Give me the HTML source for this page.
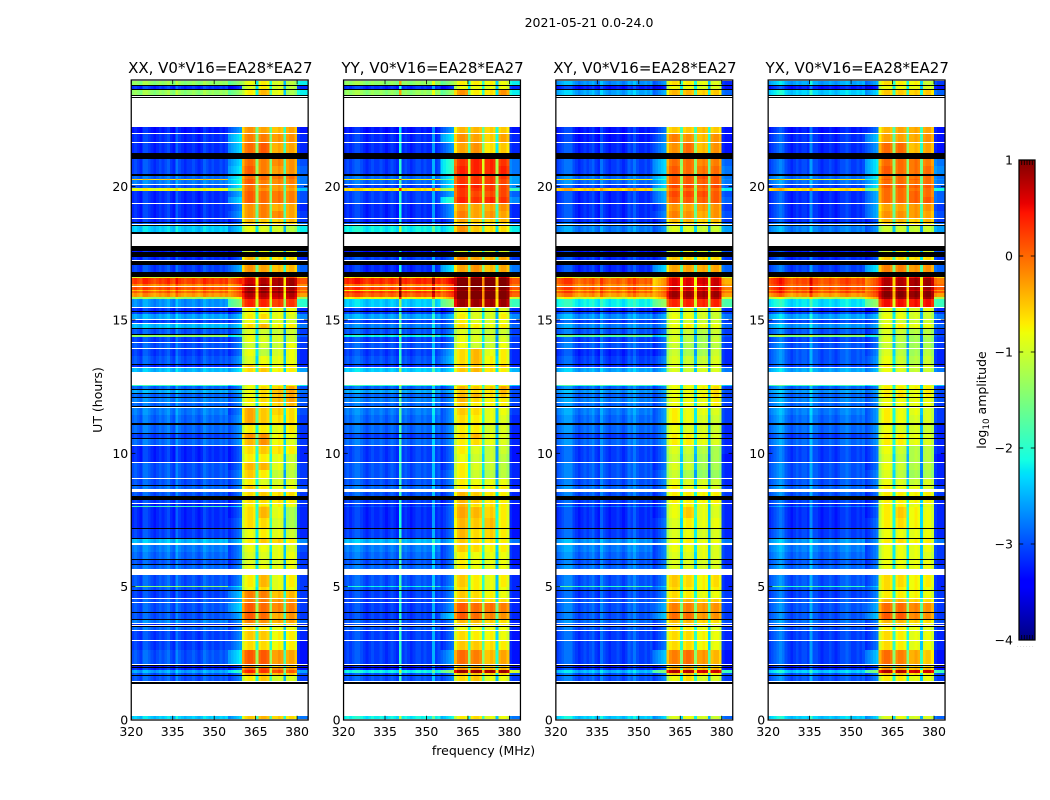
<!DOCTYPE html>
<html lang="en">
<head>
<meta charset="utf-8">
<title>2021-05-21 dynamic spectra</title>
<style>
html,body{margin:0;padding:0;background:#fff;width:1050px;height:800px;overflow:hidden}
svg{display:block}
text{font-family:"DejaVu Sans","Liberation Sans",sans-serif;fill:#000}
</style>
</head>
<body>
<svg id="chart" xmlns="http://www.w3.org/2000/svg" width="1050" height="800" viewBox="0 0 1050 800">
<rect x="0" y="0" width="1050" height="800" fill="#fff"/>
<text x="589" y="27" font-size="12.5" text-anchor="middle">2021-05-21 0.0-24.0</text>
<text x="483.5" y="755" font-size="12.5" text-anchor="middle">frequency (MHz)</text>
<text x="0" y="0" font-size="12.5" text-anchor="middle" transform="translate(102,400) rotate(-90)">UT (hours)</text>
<text x="0" y="0" font-size="12.5" text-anchor="middle" transform="translate(986,400) rotate(-90)">log<tspan dy="3" font-size="8.8">10</tspan><tspan dy="-3"> amplitude</tspan></text>
<defs><linearGradient id="jetGradient" x1="0" y1="1" x2="0" y2="0"></linearGradient></defs>
<g id="panels"></g>
<g id="colorbar"></g>
</svg>
<script>
const panelTitles = ["XX, V0*V16=EA28*EA27", "YY, V0*V16=EA28*EA27", "XY, V0*V16=EA28*EA27", "YX, V0*V16=EA28*EA27"];
const freqTicks = [320, 335, 350, 365, 380];
const utTicks = [0, 5, 10, 15, 20];
const colorTicks = [1, 0, -1, -2, -3, -4];
const freqRange = [320, 384];
const utRange = [0, 24];
const colorRange = [-4, 1];
const hoursPerSample = 0.0375;
const quietFloorShift = -2;
const quietFloorLimit = -15;

// Samples with no signal (drawn black). Each is [firstSample, lastSample].
const flaggedSpans = [[634,635],[630,631],[624,625],[622,623],[561,567],[544,546],[497,498],[494,495],[486,488],[469,474],[463,468],[455,459],[443,448],[408,409],[391,392],[385,386],[355,356],[330,331],[326,327],[322,323],[313,314],[295,297],[286,287],[281,282],[234,235],[220,224],[191,192],[181,182],[160,161],[155,156],[129,130],[107,108],[100,101],[93,94],[54,55],[52,53],[44,45],[36,38]];

// Time spans with data, top to bottom. Gaps between spans are unobserved (white).
const rowSpans = [[635,639],[631,634],[625,630],[587,593],[578,586],[567,577],[554,561],[546,554],[541,544],[540,541],[536,540],[532,535],[529,532],[523,529],[517,523],[509,516],[502,509],[498,501],[496,497],[488,494],[468,469],[460,463],[448,455],[442,443],[436,442],[434,436],[430,433],[429,430],[427,429],[423,427],[421,423],[413,421],[409,412],[406,408],[401,406],[397,400],[392,396],[386,391],[383,385],[378,383],[372,377],[364,371],[356,364],[353,355],[348,352],[334,335],[331,334],[327,330],[323,326],[318,322],[314,317],[305,312],[297,305],[287,295],[282,286],[275,281],[266,274],[258,266],[250,257],[242,250],[235,241],[231,234],[224,228],[217,220],[214,216],[213,214],[202,213],[192,202],[182,191],[177,181],[168,175],[161,168],[156,160],[151,155],[134,145],[133,134],[130,133],[122,129],[118,121],[108,117],[101,107],[97,100],[95,96],[90,93],[80,89],[70,79],[56,70],[53,54],[50,52],[47,50],[45,47],[39,44],[1,4]];

// Which spectral region each of the 64 channels belongs to.
const channelRegion = [0,0,0,0,0,0,0,0,0,0,0,0,0,0,0,0,0,0,0,0,0,0,0,0,0,0,0,0,0,0,0,0,0,0,0,1,1,1,1,1,2,2,2,2,2,2,3,3,3,3,3,4,4,4,4,4,5,5,5,5,6,6,6,6];

// Per-channel offsets in tenths of a log10 unit (bandpass shape and RFI columns).
const channelOffsetXX = [0,1,0,-1,2,2,1,0,-1,0,1,0,1,2,0,-1,3,1,0,-1,0,0,1,0,-1,0,2,1,0,1,0,0,1,0,1,-3,-2,-1,0,1,-3,0,1,1,0,-13,0,1,1,0,-13,0,0,1,0,-15,0,1,1,-1,1,0,0,0];
const channelOffsetYY = [0,1,0,1,2,2,1,0,-1,0,1,0,0,1,0,-1,0,1,0,-1,11,0,1,0,-1,0,1,1,0,1,0,0,6,0,1,-3,-2,-1,0,1,-3,0,1,1,0,-13,0,1,1,0,-12,0,0,1,0,-15,0,1,1,-1,1,0,0,0];
const channelOffsetXY = [0,1,2,3,3,3,1,0,-1,0,1,0,1,2,0,-1,3,1,0,-1,0,0,1,0,-1,0,2,1,3,1,0,0,1,0,1,-3,-2,-1,0,1,-3,0,1,1,0,-13,0,1,1,0,-13,0,0,1,0,-15,0,1,1,-1,1,0,0,0];
const channelOffsetYX = [0,1,2,3,4,3,1,0,-1,0,1,0,1,1,0,5,1,1,0,-1,0,0,1,0,-1,0,1,1,2,1,0,0,1,0,1,-3,-2,-1,0,1,-3,0,1,1,0,-13,0,1,1,0,-13,0,0,1,0,-15,0,1,1,-1,1,0,0,0];

// One row per time span: [320-350, 350-360, band 1, band 2, band 3, band 4, 380-384], in tenths of log10 amplitude.
const levelsXX = [
[-14,-14,-9,-8,-10,-12,-20],[-30,-30,-10,-8,-10,-12,-30],[-14,-14,-8,-5,-9,-13,-20],
[-31,-25,-3,-4,-5,-4,-31],[-30,-21,-2,-2,-3,-3,-30],[-30,-22,-1,0,-4,-4,-30],
[-29,-22,-1,-2,-2,-3,-28],[-29,-21,0,-2,-3,-3,-27],
[-27,-20,-1,-1,-1,-1,-26],[-6,-18,0,-1,-2,-2,-26],[-26,-20,0,-2,-2,-2,-26],[-28,-21,-1,-2,-3,-3,-27],[-9,-14,-1,-3,-3,-4,-22],[-30,-24,0,-1,-1,-2,-28],[-30,-22,0,-1,-1,-2,-28],[-30,-26,-3,-2,-4,-4,-30],[-30,-25,-3,-2,-2,-4,-29],[-30,-28,-5,-6,-6,-5,-29],[-28,-26,-6,-7,-6,-6,-26],[-22,-22,-9,-10,-10,-12,-20],
[-31,-30,-10,-9,-10,-10,-28],[-30,-28,-5,-7,-7,-7,-30],[-29,-24,-3,-4,-5,-5,-27],
[-10,-8,0,1,1,1,-6],[2,3,6,7,8,8,1],[-2,-1,7,8,8,8,-2],[1,2,8,8,8,8,0],[-5,-3,6,6,6,6,-3],[0,1,9,9,9,9,0],[-3,0,7,7,7,7,-3],[-13,-8,6,6,6,6,-13],[-25,-15,3,3,2,2,-18],
[-30,-30,-8,-8,-9,-9,-30],[-29,-28,-9,-9,-9,-9,-29],[-24,-23,-8,-7,-9,-10,-25],[-29,-27,-9,-10,-10,-11,-29],[-23,-22,-7,-5,-8,-8,-26],[-28,-26,-10,-11,-11,-11,-29],[-14,-18,-9,-11,-10,-11,-27],[-29,-27,-9,-10,-10,-11,-29],[-28,-26,-11,-11,-11,-9,-29],[-29,-27,-9,-12,-10,-9,-30],[-28,-25,-10,-9,-9,-9,-30],[-30,-28,-6,-8,-9,-8,-30],[-23,-21,-7,-6,-8,-8,-24],
[-18,-18,-9,-9,-9,-9,-20],[-27,-26,-9,-7,-6,-4,-28],[-24,-23,-9,-7,-5,-4,-26],[-27,-26,-9,-7,-5,-4,-28],[-26,-25,-8,-7,-5,-4,-27],[-27,-26,-9,-8,-6,-5,-28],[-26,-26,-4,-6,-6,-7,-28],[-27,-25,-4,-6,-7,-7,-29],[-27,-25,-8,-8,-9,-8,-29],[-29,-26,-3,-3,-8,-9,-30],[-27,-25,-5,-3,-8,-10,-29],[-30,-28,-7,-6,-7,-8,-30],[-30,-28,-8,-8,-9,-11,-30],[-28,-27,-5,-5,-9,-11,-29],[-28,-26,-6,-8,-11,-12,-29],
[-28,-26,-8,-10,-10,-10,-29],[-27,-26,-6,-8,-9,-9,-28],[-28,-27,-7,-6,-7,-7,-29],[-29,-28,-7,-7,-7,-8,-29],[-30,-28,-8,-8,-8,-9,-30],[-17,-20,-8,-7,-8,-9,-29],[-30,-28,-7,-5,-9,-13,-30],[-30,-27,-7,-7,-10,-13,-30],[-29,-27,-9,-8,-9,-11,-30],[-23,-23,-8,-6,-6,-8,-25],[-26,-26,-9,-9,-9,-10,-28],[-27,-26,-10,-10,-9,-9,-29],[-28,-27,-10,-10,-10,-9,-29],[-27,-26,-9,-9,-9,-9,-29],
[-28,-26,-8,-5,-9,-8,-29],[-15,-20,-8,-5,-9,-8,-29],[-28,-24,-9,-7,-9,-9,-29],[-29,-23,-2,-2,-5,-5,-29],[-28,-24,-2,-2,-3,-3,-29],[-28,-22,0,-1,-2,-2,-29],[-28,-24,0,-1,-4,-3,-29],[-26,-25,-2,-3,-4,-4,-27],[-30,-28,-5,-5,-7,-7,-30],[-27,-26,-7,-8,-9,-9,-28],[-29,-26,-6,-6,-8,-8,-30],[-29,-25,-7,-7,-8,-8,-31],[-28,-21,0,0,-3,-4,-31],[-31,-29,-3,-5,-6,-6,-31],[-30,-28,0,1,-2,-3,-31],[-24,-18,3,2,1,0,-24],[-28,-26,-4,-5,-5,-6,-28],[-28,-26,-8,-6,-10,-10,-29],[-22,-22,-6,-5,-6,-7,-26]
];
const levelsYY = [
[-14,-14,-8,-8,-8,-9,-20],[-30,-30,-9,-9,-9,-9,-30],[-14,-14,-3,-8,-7,-3,-20],
[-31,-25,-5,-5,-6,-6,-31],[-30,-21,-3,-4,-6,-4,-30],[-30,-25,-4,-3,-7,-6,-30],
[-29,-18,2,3,3,2,-26],[-29,-18,3,3,3,3,-26],
[-27,-20,2,2,2,2,-24],[-8,-15,2,2,2,1,-24],[-27,-21,2,2,2,1,-24],[-29,-21,3,3,2,1,-25],[-7,-11,2,2,2,1,-17],[-29,-24,2,1,1,1,-27],[-29,-18,3,2,3,2,-25],[-30,-25,-3,-4,-4,-3,-30],[-30,-25,-2,-4,-3,-4,-30],[-30,-28,-4,-6,-6,-5,-30],[-28,-26,-6,-7,-7,-7,-26],[-20,-19,-3,-6,-7,-7,-20],
[-31,-30,-10,-9,-10,-10,-28],[-29,-27,-2,-4,-5,-4,-29],[-30,-21,-4,-3,-5,-4,-26],
[-8,-5,5,6,6,6,-6],[3,5,10,10,10,10,1],[-2,1,10,10,10,10,-1],[2,3,10,10,10,10,1],[-8,-5,8,8,8,8,-5],[2,3,10,10,10,10,1],[0,2,10,10,10,10,0],[-8,-4,10,10,10,10,-10],[-22,-14,8,8,8,8,-17],
[-30,-29,-9,-10,-10,-10,-30],[-29,-28,-9,-10,-10,-9,-29],[-24,-23,-8,-10,-10,-8,-25],[-29,-27,-8,-10,-10,-9,-29],[-26,-25,-7,-8,-9,-8,-27],[-28,-26,-10,-11,-11,-11,-29],[-20,-20,-9,-10,-10,-11,-28],[-29,-27,-9,-10,-11,-10,-29],[-28,-26,-9,-11,-11,-9,-29],[-29,-24,-7,-5,-9,-8,-30],[-28,-23,-7,-5,-8,-8,-30],[-30,-27,-6,-6,-7,-6,-30],[-22,-21,-6,-5,-7,-8,-23],
[-18,-18,-9,-9,-9,-9,-22],[-27,-26,-5,-6,-6,-4,-29],[-24,-23,-6,-7,-7,-5,-28],[-27,-26,-5,-5,-7,-6,-29],[-26,-25,-5,-7,-8,-8,-28],[-27,-26,-6,-8,-8,-8,-29],[-26,-25,-6,-7,-9,-9,-29],[-27,-25,-7,-8,-9,-10,-30],[-27,-25,-8,-8,-10,-10,-30],[-29,-26,-7,-5,-9,-10,-31],[-27,-25,-8,-7,-9,-10,-30],[-29,-27,-8,-10,-11,-11,-31],[-29,-27,-9,-11,-11,-12,-31],[-28,-27,-8,-10,-11,-12,-30],[-28,-26,-8,-11,-12,-12,-30],
[-28,-26,-8,-9,-9,-9,-30],[-27,-26,-8,-8,-8,-8,-30],[-28,-27,-5,-6,-7,-8,-30],[-29,-28,-5,-6,-7,-8,-30],[-30,-28,-5,-7,-7,-8,-31],[-28,-26,-5,-8,-7,-8,-31],[-30,-27,-4,-5,-6,-8,-31],[-30,-27,-5,-6,-5,-8,-31],[-29,-27,-5,-7,-6,-8,-31],[-23,-23,-6,-7,-7,-8,-26],[-26,-26,-6,-7,-8,-8,-30],[-27,-26,-8,-9,-9,-9,-30],[-28,-27,-8,-9,-9,-9,-31],[-27,-26,-8,-9,-9,-9,-30],
[-28,-26,-6,-8,-9,-8,-30],[-20,-22,-6,-8,-9,-8,-30],[-28,-25,-7,-8,-9,-9,-30],[-29,-26,-6,-7,-8,-9,-30],[-29,-26,-5,-6,-7,-7,-30],[-29,-25,0,-1,-1,-2,-30],[-29,-22,0,-1,-2,-3,-30],[-28,-26,-5,-5,-6,-7,-30],[-29,-27,-7,-7,-8,-8,-30],[-28,-27,-9,-9,-9,-9,-30],[-29,-27,-7,-8,-8,-9,-31],[-29,-27,-6,-6,-7,-8,-31],[-29,-24,-1,-2,-5,-4,-31],[-31,-29,-5,-5,-6,-6,-31],[-31,-28,-3,-4,-5,-5,-31],[-20,-14,8,8,8,8,-10],[-28,-26,-6,-6,-7,-7,-28],[-28,-26,-7,-6,-9,-9,-29],[-20,-20,-8,-7,-9,-9,-26]
];
const levelsXY = [
[-25,-25,-7,-8,-9,-10,-30],[-31,-31,-9,-9,-10,-10,-31],[-24,-24,-5,-5,-6,-6,-27],
[-31,-27,-6,-6,-5,-6,-31],[-31,-26,-2,-3,-5,-3,-31],[-30,-25,-3,-1,-5,-3,-31],
[-29,-22,-1,-1,-2,-2,-27],[-29,-22,0,-1,-1,-1,-26],
[-27,-21,0,0,1,0,-26],[-8,-18,0,0,0,0,-25],[-27,-22,0,0,0,0,-26],[-29,-22,1,1,0,1,-27],[-6,-14,-1,-1,-1,-1,-20],[-30,-24,1,1,1,0,-28],[-30,-24,0,0,0,0,-27],[-30,-27,-3,-4,-3,-3,-29],[-30,-26,-2,-3,-4,-3,-28],[-30,-28,-5,-5,-6,-5,-29],[-28,-26,-7,-7,-7,-7,-26],[-26,-25,-10,-10,-11,-11,-24],
[-31,-30,-10,-9,-10,-10,-28],[-30,-28,-6,-7,-7,-7,-29],[-30,-22,-4,-4,-4,-4,-27],
[-10,-8,1,1,1,2,-10],[0,-3,5,5,6,6,-4],[-2,-3,5,5,5,6,-3],[0,-1,6,6,6,6,-1],[-5,-4,4,4,4,4,-4],[0,0,8,8,8,8,-1],[-3,-1,8,8,8,8,-3],[-10,-5,7,7,7,7,-10],[-20,-14,3,3,3,3,-16],
[-30,-30,-9,-10,-10,-9,-30],[-29,-28,-10,-10,-10,-11,-29],[-25,-24,-9,-9,-10,-11,-26],[-29,-27,-10,-11,-11,-11,-29],[-26,-25,-9,-8,-9,-9,-27],[-28,-27,-10,-11,-12,-11,-29],[-16,-20,-11,-12,-13,-12,-28],[-29,-27,-10,-12,-13,-11,-29],[-28,-27,-11,-13,-13,-12,-29],[-30,-28,-11,-13,-13,-11,-30],[-29,-26,-10,-11,-11,-10,-30],[-30,-28,-10,-11,-10,-10,-30],[-24,-23,-10,-11,-10,-10,-26],
[-18,-18,-9,-9,-9,-9,-22],[-27,-26,-9,-9,-8,-7,-29],[-25,-24,-9,-9,-9,-7,-28],[-27,-26,-9,-9,-8,-7,-29],[-26,-25,-9,-9,-9,-8,-28],[-27,-26,-9,-9,-9,-8,-29],[-26,-25,-8,-9,-9,-10,-29],[-27,-25,-8,-9,-10,-11,-29],[-27,-25,-9,-10,-10,-11,-30],[-29,-26,-8,-8,-9,-10,-30],[-27,-25,-8,-8,-9,-10,-30],[-29,-27,-10,-11,-12,-13,-30],[-29,-27,-11,-12,-13,-13,-31],[-28,-27,-10,-11,-13,-13,-30],[-28,-26,-11,-13,-14,-14,-30],
[-28,-26,-9,-10,-10,-11,-30],[-27,-26,-8,-9,-9,-10,-29],[-28,-27,-8,-8,-8,-8,-29],[-29,-28,-8,-8,-8,-8,-30],[-30,-28,-9,-8,-9,-9,-30],[-26,-24,-9,-8,-9,-10,-30],[-30,-28,-9,-6,-9,-10,-30],[-30,-27,-10,-8,-9,-9,-30],[-29,-27,-10,-9,-10,-10,-30],[-25,-25,-9,-8,-9,-9,-26],[-26,-26,-9,-9,-9,-10,-29],[-27,-26,-10,-10,-9,-10,-29],[-28,-27,-10,-10,-10,-10,-30],[-27,-26,-10,-10,-10,-10,-29],
[-28,-26,-6,-7,-8,-7,-30],[-18,-22,-6,-7,-8,-7,-30],[-28,-25,-7,-8,-8,-8,-30],[-29,-26,-7,-8,-9,-9,-29],[-28,-25,-5,-5,-6,-6,-29],[-28,-24,-2,-2,-3,-3,-29],[-28,-23,-1,-1,-3,-3,-29],[-27,-26,-5,-5,-6,-7,-28],[-29,-28,-7,-7,-8,-9,-30],[-28,-27,-7,-8,-9,-10,-29],[-29,-27,-7,-7,-8,-9,-30],[-29,-27,-7,-7,-8,-9,-30],[-29,-23,-2,-1,-3,-5,-31],[-31,-29,-5,-5,-6,-7,-31],[-30,-28,-4,-4,-5,-5,-31],[-23,-15,7,7,6,6,-17],[-28,-26,-6,-6,-7,-8,-28],[-28,-26,-9,-7,-10,-10,-29],[-22,-22,-10,-9,-10,-11,-27]
];
const levelsYX = [
[-24,-24,-7,-8,-8,-11,-29],[-31,-31,-9,-9,-9,-10,-31],[-22,-22,-6,-6,-6,-6,-27],
[-31,-27,-5,-4,-4,-4,-31],[-30,-23,-4,-4,-4,-3,-31],[-30,-25,-1,-1,-5,-4,-31],
[-29,-21,-1,-1,-1,-2,-26],[-29,-21,0,-1,-1,-1,-25],
[-27,-21,-1,-1,-1,-1,-26],[-8,-16,0,-1,0,-1,-25],[-27,-22,-1,-1,-1,-1,-26],[-29,-21,0,0,0,0,-27],[-7,-13,-1,-1,-1,-1,-19],[-30,-24,-1,-1,0,-1,-27],[-30,-24,-1,-1,0,0,-27],[-30,-24,-4,-4,-3,-3,-29],[-30,-24,-3,-3,-3,-4,-28],[-30,-28,-5,-5,-6,-5,-29],[-28,-26,-7,-7,-7,-7,-26],[-26,-25,-11,-11,-11,-11,-24],
[-31,-30,-10,-9,-10,-10,-28],[-30,-28,-6,-7,-7,-7,-29],[-29,-21,-2,-2,-3,-3,-27],
[-7,-5,4,4,4,4,-6],[1,1,7,7,8,8,-1],[0,1,7,7,8,8,0],[1,2,8,8,8,8,1],[-3,-1,6,6,6,6,-3],[1,2,9,9,9,9,1],[-3,1,9,9,9,9,-3],[-12,-4,8,8,8,8,-12],[-21,-14,4,4,4,4,-17],
[-30,-30,-9,-9,-10,-9,-30],[-29,-28,-10,-10,-10,-11,-29],[-24,-23,-9,-9,-10,-11,-26],[-29,-27,-10,-11,-11,-11,-29],[-25,-24,-9,-8,-9,-9,-27],[-28,-27,-10,-11,-12,-12,-29],[-15,-18,-11,-12,-13,-12,-28],[-29,-27,-10,-12,-13,-13,-29],[-28,-27,-11,-13,-13,-13,-29],[-28,-26,-10,-12,-13,-12,-30],[-28,-25,-9,-11,-12,-11,-30],[-29,-27,-8,-10,-11,-10,-30],[-24,-23,-9,-10,-11,-11,-26],
[-18,-18,-9,-9,-9,-9,-22],[-27,-26,-8,-8,-8,-8,-29],[-25,-24,-8,-8,-9,-8,-28],[-27,-26,-8,-7,-9,-8,-29],[-26,-25,-9,-9,-9,-9,-28],[-27,-26,-9,-9,-9,-9,-29],[-26,-25,-8,-9,-9,-10,-29],[-27,-25,-8,-9,-10,-10,-29],[-27,-25,-9,-10,-10,-11,-30],[-29,-26,-8,-8,-9,-10,-30],[-27,-25,-8,-8,-9,-10,-30],[-29,-27,-9,-11,-12,-12,-30],[-29,-27,-10,-12,-12,-12,-31],[-28,-27,-9,-11,-12,-12,-30],[-28,-26,-10,-12,-13,-13,-30],
[-28,-26,-9,-10,-11,-10,-30],[-27,-26,-8,-9,-9,-10,-29],[-28,-27,-8,-8,-8,-8,-29],[-29,-28,-8,-8,-8,-8,-30],[-30,-28,-8,-8,-9,-9,-30],[-26,-24,-8,-8,-9,-10,-30],[-30,-28,-8,-6,-8,-9,-30],[-30,-27,-8,-7,-8,-9,-30],[-29,-27,-9,-9,-9,-9,-30],[-25,-25,-8,-7,-8,-8,-26],[-26,-26,-9,-9,-9,-9,-29],[-27,-26,-9,-9,-9,-10,-29],[-28,-27,-9,-9,-9,-9,-30],[-27,-26,-9,-9,-9,-9,-29],
[-28,-26,-7,-7,-8,-8,-30],[-18,-22,-7,-7,-8,-8,-30],[-28,-25,-7,-8,-8,-9,-30],[-29,-26,-8,-8,-8,-9,-29],[-28,-25,-5,-5,-6,-7,-29],[-28,-24,-1,-1,-2,-3,-29],[-28,-23,0,0,-2,-3,-29],[-27,-26,-5,-5,-6,-7,-28],[-29,-28,-7,-7,-8,-9,-30],[-28,-27,-8,-8,-9,-10,-29],[-29,-27,-7,-8,-9,-9,-30],[-29,-27,-7,-8,-9,-9,-30],[-29,-23,-1,-2,-4,-6,-31],[-31,-29,-5,-5,-6,-7,-31],[-30,-28,-3,-4,-5,-5,-31],[-22,-15,7,7,6,6,-17],[-28,-26,-6,-6,-7,-8,-28],[-28,-26,-8,-8,-9,-9,-29],[-22,-22,-10,-9,-10,-10,-27]
];

const panelLevels = [levelsXX, levelsYY, levelsXY, levelsYX];
const panelOffsets = [channelOffsetXX, channelOffsetYY, channelOffsetXY, channelOffsetYX];

const SVGNS = 'http://www.w3.org/2000/svg';
const PLOT_TOP = 80, PLOT_BOTTOM = 720, PANEL_W = 176.9, PANEL_STEP = 212.3, PANEL_LEFT = 131.25;
const BAR_X = 1019, BAR_W = 16, BAR_TOP = 160, BAR_BOTTOM = 640;

function el(tag, attrs, parent) {
  const node = document.createElementNS(SVGNS, tag);
  for (const key in attrs) node.setAttribute(key, attrs[key]);
  parent.appendChild(node);
  return node;
}
function xScale(mhz, left) {
  return left + (mhz - freqRange[0]) / (freqRange[1] - freqRange[0]) * PANEL_W;
}
function yScale(ut) {
  return PLOT_BOTTOM - (ut - utRange[0]) / (utRange[1] - utRange[0]) * (PLOT_BOTTOM - PLOT_TOP);
}
function cScale(v) {
  return BAR_BOTTOM - (v - colorRange[0]) / (colorRange[1] - colorRange[0]) * (BAR_BOTTOM - BAR_TOP);
}
function ramp(t, pts) {
  for (let i = 1; i < pts.length; i++) {
    if (t <= pts[i][0]) {
      const f = (t - pts[i - 1][0]) / (pts[i][0] - pts[i - 1][0]);
      return pts[i - 1][1] + f * (pts[i][1] - pts[i - 1][1]);
    }
  }
  return pts[pts.length - 1][1];
}
const jetR = [[0,0],[0.35,0],[0.66,1],[0.89,1],[1,0.5]];
const jetG = [[0,0],[0.125,0],[0.375,1],[0.64,1],[0.91,0],[1,0]];
const jetB = [[0,0.5],[0.11,1],[0.34,1],[0.65,0],[1,0]];
function jet(t) {
  t = Math.max(0, Math.min(1, t));
  return 'rgb(' + Math.round(ramp(t, jetR) * 255) + ',' + Math.round(ramp(t, jetG) * 255) + ',' + Math.round(ramp(t, jetB) * 255) + ')';
}
function colorOf(v) {
  return jet((v - colorRange[0]) / (colorRange[1] - colorRange[0]));
}
function displayLevel(level) {
  return level < quietFloorLimit ? level + quietFloorShift : level;
}

const panelsRoot = document.getElementById('panels');
panelTitles.forEach(function (title, p) {
  const left = PANEL_LEFT + p * PANEL_STEP;
  const group = el('g', {}, panelsRoot);
  
  

  const levels = panelLevels[p];
  const offsets = panelOffsets[p];
  const cells = el('g', { 'shape-rendering': 'crispEdges' }, group);
  
  
  const nChan = channelRegion.length;
  const chanStep = (freqRange[1] - freqRange[0]) / nChan;

  rowSpans.forEach(function (span, r) {
    const yTop = yScale(span[1] * hoursPerSample);
    const yBot = yScale(span[0] * hoursPerSample);
    for (let ch = 0; ch < nChan; ch++) {
      const value = (displayLevel(levels[r][channelRegion[ch]]) + offsets[ch]) / 10;
      const x0 = xScale(freqRange[0] + ch * chanStep, left);
      const x1 = xScale(freqRange[0] + (ch + 1) * chanStep, left);
      const cell = el('rect', { x: x0.toFixed(2), y: yTop, width: (x1 - x0 + 0.4).toFixed(2), height: yBot - yTop, fill: colorOf(value) }, cells);
      
      
    }
  });

  flaggedSpans.forEach(function (span) {
    const yTop = yScale(span[1] * hoursPerSample);
    const yBot = yScale(span[0] * hoursPerSample);
    const band = el('rect', { x: left, y: yTop, width: PANEL_W, height: yBot - yTop, fill: '#000' }, cells);
    
    
  });

  const frame = el('rect', { x: left, y: PLOT_TOP, width: PANEL_W, height: PLOT_BOTTOM - PLOT_TOP, fill: 'none', stroke: '#000', 'stroke-width': 1.25 }, group);
  
  

  const heading = el('text', { x: left + PANEL_W / 2 + 0.6, y: 73, 'font-size': 15, 'text-anchor': 'middle' }, group);
  heading.textContent = title;
  
  

  freqTicks.forEach(function (f) {
    const x = xScale(f, left);
    const tickBottom = el('line', { x1: x, x2: x, y1: PLOT_BOTTOM, y2: PLOT_BOTTOM - 4.2, stroke: '#000', 'stroke-width': 0.8 }, group);
    
    
    const tickTop = el('line', { x1: x, x2: x, y1: PLOT_TOP, y2: PLOT_TOP + 4.2, stroke: '#000', 'stroke-width': 0.8 }, group);
    
    
    const label = el('text', { x: x, y: 736, 'font-size': 12.5, 'text-anchor': 'middle' }, group);
    label.textContent = String(f);
    
    
  });

  utTicks.forEach(function (u) {
    const y = yScale(u);
    const tickLeft = el('line', { x1: left, x2: left + 4.2, y1: y, y2: y, stroke: '#000', 'stroke-width': 0.8 }, group);
    
    
    const tickRight = el('line', { x1: left + PANEL_W, x2: left + PANEL_W - 4.2, y1: y, y2: y, stroke: '#000', 'stroke-width': 0.8 }, group);
    
    
    const label = el('text', { x: left - 3, y: y + 4.5, 'font-size': 12.5, 'text-anchor': 'end' }, group);
    label.textContent = String(u);
    
    
  });
});

const jetStops = [0, 0.11, 0.125, 0.34, 0.35, 0.375, 0.64, 0.65, 0.66, 0.89, 0.91, 1];
const gradient = document.getElementById('jetGradient');
jetStops.forEach(function (t) {
  el('stop', { offset: t, 'stop-color': jet(t) }, gradient);
});

const barRoot = document.getElementById('colorbar');
const barFill = el('rect', { x: BAR_X, y: BAR_TOP, width: BAR_W, height: BAR_BOTTOM - BAR_TOP, fill: 'url(#jetGradient)', stroke: '#000', 'stroke-width': 1.25 }, barRoot);



colorTicks.forEach(function (v) {
  const y = cScale(v);
  const tickL = el('line', { x1: BAR_X, x2: BAR_X + 4.2, y1: y, y2: y, stroke: '#000', 'stroke-width': 0.8 }, barRoot);
  
  
  const tickR = el('line', { x1: BAR_X + BAR_W, x2: BAR_X + BAR_W - 4.2, y1: y, y2: y, stroke: '#000', 'stroke-width': 0.8 }, barRoot);
  
  
  const label = el('text', { x: BAR_X - 6, y: y + 4.5, 'font-size': 12.5, 'text-anchor': 'end' }, barRoot);
  label.textContent = v < 0 ? '\u2212' + Math.abs(v) : String(v);
  
  
});

const barMarkFractions = [0.17, 0.33, 0.5, 0.67, 0.83];
barMarkFractions.forEach(function (f) {
  const x = BAR_X + f * BAR_W;
  const markTop = el('line', { x1: x, x2: x, y1: BAR_TOP, y2: BAR_TOP + 5, stroke: '#000', 'stroke-width': 0.8 }, barRoot);
  
  
  const markBottom = el('line', { x1: x, x2: x, y1: BAR_BOTTOM, y2: BAR_BOTTOM - 5, stroke: '#000', 'stroke-width': 0.8 }, barRoot);
  
  
});

const dots = el('text', { x: 1017, y: 647, 'font-size': 5, 'letter-spacing': 1.4, style: 'fill:#999' }, barRoot);
dots.textContent = '......';


</script>
</body>
</html>
